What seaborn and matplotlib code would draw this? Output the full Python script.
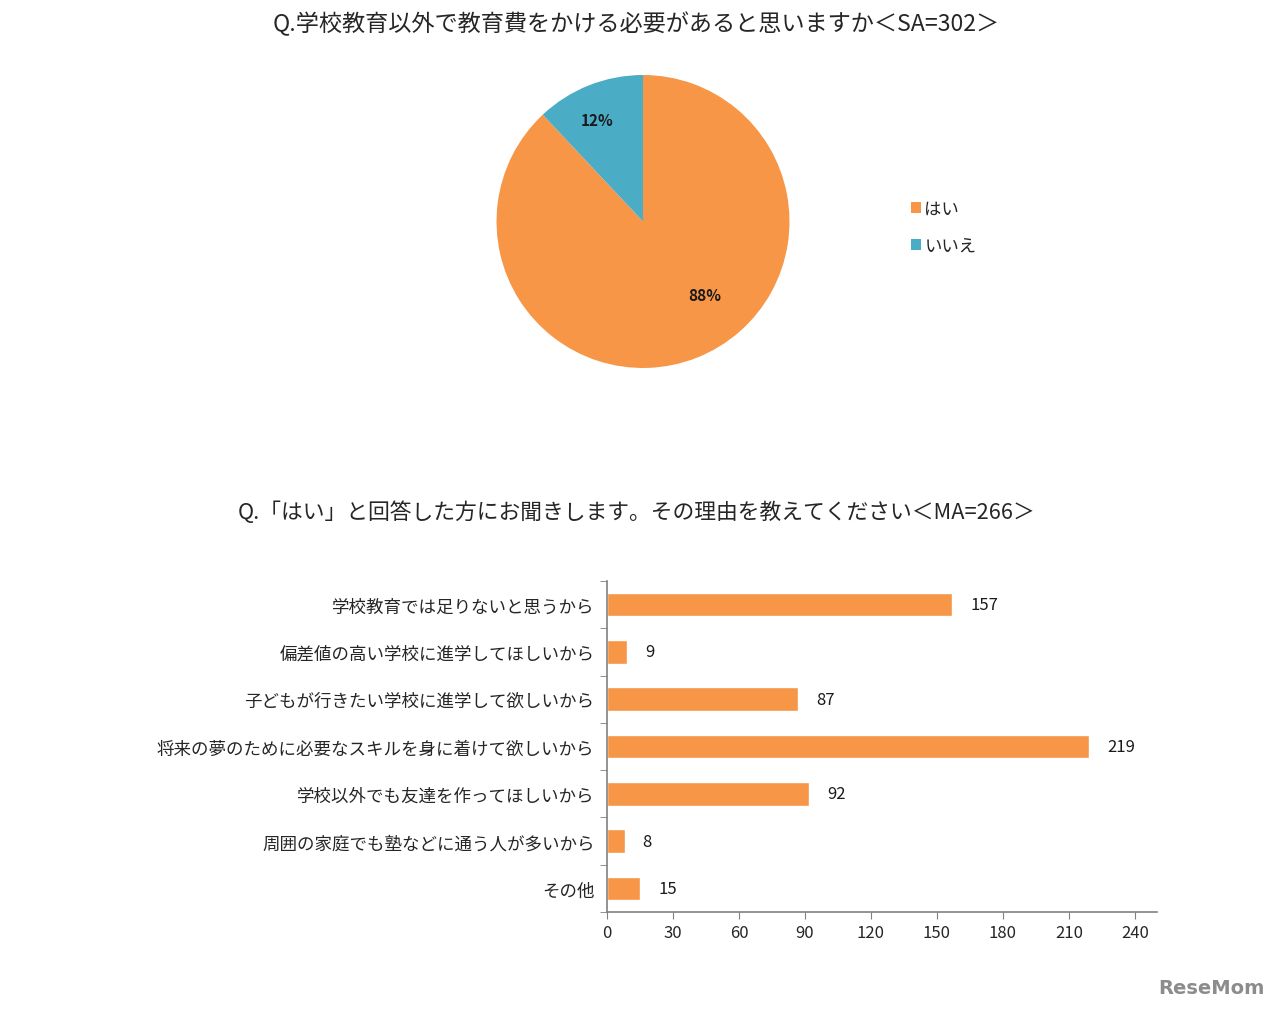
import numpy as np
import pandas as pd
import matplotlib
matplotlib.use("Agg")
import matplotlib.pyplot as plt
import seaborn as sns

# pie data
pie_labels = ["はい", "いいえ"]
pie_values = [88, 12]
pie_colors = ["#F79646", "#4BACC6"]

# bar data
reasons = [
    "学校教育では足りないと思うから",
    "偏差値の高い学校に進学してほしいから",
    "子どもが行きたい学校に進学して欲しいから",
    "将来の夢のために必要なスキルを身に着けて欲しいから",
    "学校以外でも友達を作ってほしいから",
    "周囲の家庭でも塾などに通う人が多いから",
    "その他",
]
counts = [157, 9, 87, 219, 92, 8, 15]
x_ticks = [0, 30, 60, 90, 120, 150, 180, 210, 240]

title1 = "Q.学校教育以外で教育費をかける必要があると思いますか＜SA=302＞"
title2 = "Q.「はい」と回答した方にお聞きします。その理由を教えてください＜MA=266＞"

sns.set_style("white")
plt.rcParams["font.family"] = ["Noto Sans CJK JP", "DejaVu Sans"]

fig = plt.figure(figsize=(12.8, 10.12), dpi=100)

# --- pie ---
ax1 = fig.add_axes([0.3879, 0.6354, 0.2289, 0.2895])
wedges, texts, autotexts = ax1.pie(
    pie_values, colors=pie_colors, startangle=90, counterclock=False,
    autopct="%d%%", pctdistance=0.72,
    textprops=dict(fontsize=11, fontweight="bold", color="#1a1a1a"),
    wedgeprops=dict(linewidth=0),
)
autotexts[0].set_position((0.42, -0.5))
autotexts[1].set_position((-0.31, 0.69))
ax1.set_xlim(-1, 1)
ax1.set_ylim(-1, 1)
ax1.set_aspect("equal")
ax1.legend(wedges, pie_labels, loc="center left", bbox_to_anchor=(1.36, 0.48),
           frameon=False, fontsize=12.5, handlelength=0.6, handleheight=0.6,
           handletextpad=0.2, labelspacing=1.1)

fig.text(0.497, 0.976, title1, ha="center", va="center", fontsize=16.7)
fig.text(0.497, 0.493, title2, ha="center", va="center", fontsize=15.7)

# --- bars ---
df = pd.DataFrame({"reason": reasons, "count": counts})
ax2 = fig.add_axes([0.4742, 0.0978, 0.4297, 0.3271])
sns.barplot(data=df, x="count", y="reason", color="#F79646", width=0.5,
            saturation=1, ax=ax2)
ax2.bar_label(ax2.containers[0], padding=13, fontsize=12, color="#1a1a1a")
ax2.set_xlim(0, 250)
ax2.set_ylim(6.5, -0.5)
ax2.set_xticks(x_ticks)
ax2.set_xlabel("")
ax2.set_ylabel("")
ax2.set_yticks(np.arange(-0.5, 7, 1), minor=True)
ax2.tick_params(axis="y", which="major", length=0, labelsize=12.6, pad=9)
ax2.tick_params(axis="y", which="minor", length=5, color="#808080", left=True)
ax2.tick_params(axis="x", length=5, color="#808080", labelsize=12, bottom=True)
for s in ["top", "right"]:
    ax2.spines[s].set_visible(False)
for s in ["left", "bottom"]:
    ax2.spines[s].set_color("#808080")
    ax2.spines[s].set_linewidth(1.2)

fig.text(0.988, 0.023, "ReseMom", ha="right", va="center", fontsize=14,
         fontweight="bold", color="#8c8c8c", family=["DejaVu Sans"])

fig.savefig("out.png", dpi=100)
